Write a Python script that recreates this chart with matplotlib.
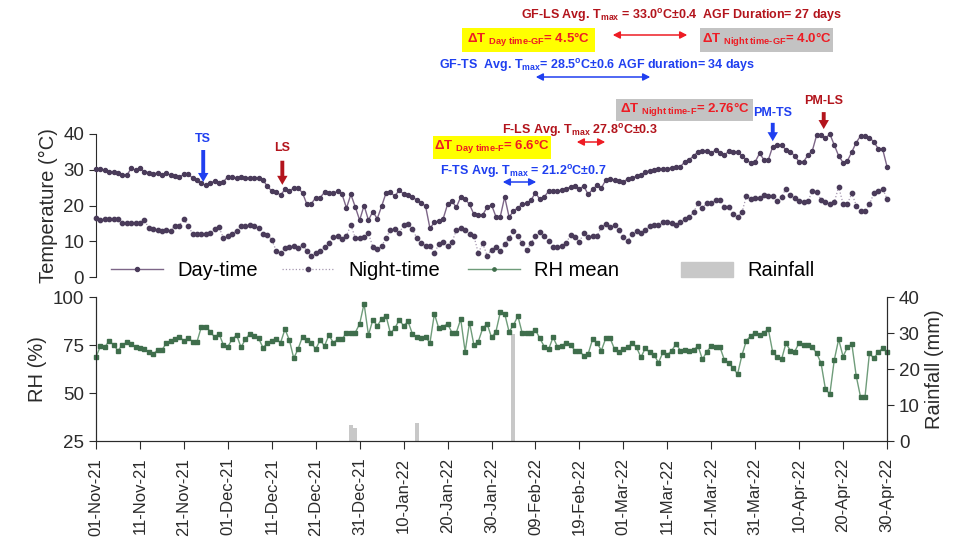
import numpy as np
import pandas as pd
import matplotlib
matplotlib.use('Agg')
import matplotlib.pyplot as plt
from matplotlib.lines import Line2D
from matplotlib.patches import Patch, Rectangle

plt.rcParams['font.family'] = ['Liberation Sans', 'DejaVu Sans']
plt.rcParams['mathtext.fontset'] = 'custom'
plt.rcParams['mathtext.rm'] = 'Liberation Sans:bold'
plt.rcParams['mathtext.it'] = 'Liberation Sans:bold'
plt.rcParams['mathtext.bf'] = 'Liberation Sans:bold'

# daily series, 01-Nov-21 .. 30-Apr-22
dates = pd.date_range('2021-11-01', '2022-04-30', freq='D')

day_temp = [
    30.3, 30.1, 29.8, 29.5, 29.4, 29.0, 28.6, 28.4, 30.4, 29.9,
    30.4, 29.5, 29.2, 28.7, 29.2, 28.5, 29.0, 28.5, 28.3, 28.0,
    28.7, 28.7, 27.7, 27.1, 26.2, 25.6, 26.2, 26.9, 26.4, 26.6,
    28.1, 28.0, 27.6, 27.9, 27.8, 27.8, 27.8, 27.8, 27.1, 25.4,
    24.0, 23.8, 22.9, 24.5, 24.0, 24.9, 24.9, 23.5, 20.3, 20.5,
    22.2, 22.2, 23.7, 23.5, 23.4, 24.0, 23.1, 19.3, 23.1, 19.6,
    15.9, 20.0, 15.9, 18.3, 16.3, 19.8, 23.5, 23.7, 22.6, 24.3,
    23.2, 22.9, 22.3, 21.6, 20.8, 19.8, 13.6, 15.3, 15.6, 16.3,
    20.3, 21.2, 19.5, 22.4, 21.8, 20.3, 17.5, 17.4, 17.4, 19.5,
    20.2, 16.9, 16.9, 22.4, 16.8, 18.4, 19.4, 20.3, 20.6, 21.5,
    23.6, 21.7, 22.4, 24.0, 24.0, 24.0, 24.3, 24.7, 25.2, 25.4,
    24.7, 25.4, 23.1, 24.5, 25.6, 24.9, 27.1, 27.3, 27.1, 26.8,
    26.5, 27.5, 27.7, 28.2, 28.5, 29.4, 29.7, 29.9, 30.3, 30.3,
    30.3, 30.5, 30.7, 30.9, 32.2, 32.8, 33.9, 35.0, 35.2, 35.2,
    34.8, 35.4, 34.8, 34.1, 35.2, 35.0, 35.0, 33.9, 32.8, 31.9,
    32.2, 34.6, 32.8, 32.8, 36.5, 36.9, 36.9, 35.6, 35.0, 33.9,
    32.2, 32.2, 34.1, 35.3, 39.7, 39.7, 38.8, 40.0, 36.9, 33.9,
    32.0, 32.5, 35.0, 37.6, 39.5, 39.5, 39.0, 37.8, 35.9, 35.8,
    30.9,
]

night_temp = [
    16.5, 16.0, 16.1, 16.1, 16.1, 16.3, 15.1, 15.0, 15.0, 15.0,
    15.0, 16.0, 13.7, 13.4, 13.2, 13.0, 13.2, 13.0, 14.4, 14.4,
    16.3, 14.2, 12.1, 12.1, 12.1, 12.1, 12.3, 13.4, 13.9, 10.9,
    11.4, 11.9, 13.0, 14.2, 14.4, 14.6, 14.4, 13.7, 12.1, 11.8,
    10.4, 7.4, 6.7, 8.1, 8.4, 8.6, 8.1, 9.0, 7.2, 6.0,
    6.7, 7.2, 8.4, 9.5, 11.1, 11.5, 10.6, 11.5, 14.6, 10.9,
    10.9, 11.1, 12.2, 8.4, 7.8, 8.6, 10.9, 13.2, 13.4, 12.2,
    14.6, 14.9, 13.4, 10.9, 9.5, 8.8, 8.6, 6.7, 9.1, 9.7,
    8.6, 9.7, 13.1, 13.7, 13.2, 12.1, 11.4, 6.7, 9.4, 6.0,
    7.6, 8.4, 7.2, 9.1, 10.9, 12.8, 11.4, 9.4, 7.5, 9.5,
    11.4, 12.5, 11.5, 10.2, 8.4, 8.4, 8.6, 9.5, 11.8, 11.1,
    9.9, 12.2, 11.1, 11.4, 11.4, 13.9, 14.8, 13.9, 14.6, 13.2,
    11.1, 10.2, 12.0, 12.8, 12.3, 13.2, 14.2, 14.6, 14.6, 15.3,
    15.3, 15.1, 14.6, 15.3, 16.2, 16.8, 18.1, 20.7, 19.3, 20.6,
    20.7, 21.5, 21.5, 19.6, 19.6, 17.7, 16.8, 18.1, 22.6, 21.8,
    22.1, 22.1, 22.8, 22.6, 22.6, 21.2, 22.4, 24.7, 22.8, 22.1,
    21.2, 20.9, 21.2, 24.0, 23.7, 21.6, 20.9, 20.3, 20.9, 25.2,
    20.5, 20.5, 23.4, 20.0, 18.4, 18.4, 20.3, 23.4, 24.0, 24.7,
    21.9,
]

rh_mean = [
    68.6, 74.5, 73.8, 77.3, 75.0, 72.1, 75.0, 76.4, 75.5, 73.8,
    73.3, 72.8, 71.5, 70.1, 72.4, 72.4, 75.9, 77.3, 78.0, 79.0,
    77.3, 78.5, 76.8, 76.8, 84.6, 84.6, 82.0, 79.0, 80.8, 75.0,
    74.2, 78.0, 80.2, 73.8, 78.0, 80.8, 79.7, 78.5, 73.6, 75.9,
    77.3, 78.0, 76.2, 83.2, 77.6, 68.1, 73.0, 79.4, 77.6, 76.2,
    72.8, 77.6, 74.5, 80.2, 76.2, 78.0, 78.0, 81.5, 81.5, 81.5,
    86.0, 96.5, 80.2, 88.1, 85.0, 88.5, 90.2, 81.1, 83.7, 88.1,
    85.0, 87.3, 80.8, 79.0, 78.5, 79.0, 76.2, 91.2, 83.7, 84.6,
    86.0, 81.5, 81.5, 88.5, 71.5, 86.7, 75.0, 76.8, 83.7, 86.0,
    79.0, 81.9, 92.0, 91.3, 81.9, 85.4, 90.1, 81.1, 81.4, 81.4,
    82.8, 78.5, 74.2, 72.8, 79.0, 74.2, 74.5, 76.2, 75.0, 72.1,
    72.1, 69.3, 70.4, 78.0, 76.2, 72.1, 78.5, 78.5, 72.8, 71.5,
    72.8, 73.8, 75.9, 73.8, 68.6, 73.3, 71.1, 69.8, 65.8, 71.1,
    69.8, 72.1, 75.5, 72.1, 72.4, 72.1, 72.4, 74.5, 67.5, 71.5,
    74.5, 73.8, 73.8, 67.2, 65.8, 62.9, 59.9, 69.8, 77.3, 79.7,
    81.5, 80.2, 81.5, 83.2, 71.1, 69.0, 67.5, 75.9, 72.1, 71.5,
    76.2, 75.0, 75.0, 73.8, 70.7, 65.5, 51.9, 49.5, 67.2, 78.0,
    69.0, 73.8, 75.5, 58.8, 47.7, 48.1, 70.7, 68.1, 71.1, 73.3,
    71.5,
]

# rainfall only on a few days (day index from 01-Nov-21)
rain_days = [58, 59, 73, 95]
rain_mm = [4.4, 3.7, 4.9, 29.8]

x = np.arange(len(dates))
tick_pos = x[::10]
tick_labels = [d.strftime('%d-%b-%y') for d in dates[::10]]

W, H = 959.0, 542.0
def fx(px):
    return px / W
def fy(py):
    return 1 - py / H

purple_line = '#7d6688'
purple_dot = '#4a3b5a'
green_line = '#6f9c7a'
green_dot = '#3f6e4c'
rain_col = '#c8c8c8'
dark_red = '#b3141c'
red = '#ee1c24'
blue = '#1f3ff0'
axis_col = '#2b2b2b'

fig = plt.figure(figsize=(9.59, 5.42), dpi=100)
ax_t = fig.add_axes([fx(96), fy(277), fx(887) - fx(96), fy(134) - fy(277)])
ax_b = fig.add_axes([fx(96), fy(441), fx(887) - fx(96), fy(297) - fy(441)])
ax_r = ax_b.twinx()

# temperature panel
ax_t.plot(x, day_temp, '-', color=purple_line, lw=1.0, marker='o', ms=2.9,
          mfc=purple_dot, mec=purple_dot, clip_on=False, zorder=3)
ax_t.plot(x, night_temp, ':', color='#a597b0', lw=0.9, marker='o', ms=3.1,
          mfc=purple_dot, mec=purple_dot, clip_on=False, zorder=3)
ax_t.set_xlim(0, 180)
ax_t.set_ylim(0, 40)
ax_t.set_yticks([0, 10, 20, 30, 40])
ax_t.set_xticks([])
for s in ['top', 'right', 'bottom']:
    ax_t.spines[s].set_visible(False)
ax_t.spines['left'].set_color(axis_col)
ax_t.tick_params(axis='y', direction='out', length=5, labelsize=13.5, colors=axis_col)
ax_t.set_ylabel('Temperature (°C)', fontsize=14.5, color=axis_col, labelpad=4)
ax_t.patch.set_visible(False)

# RH + rainfall panel
ax_r.bar(rain_days, rain_mm, width=0.9, color=rain_col, zorder=1)
ax_r.set_ylim(0, 40)
ax_r.set_yticks([0, 10, 20, 30, 40])
ax_r.set_ylabel('Rainfall (mm)', fontsize=14.5, color=axis_col, labelpad=4)
ax_r.tick_params(axis='y', direction='out', length=5, labelsize=13.5, colors=axis_col)

ax_b.set_zorder(ax_r.get_zorder() + 1)
ax_b.patch.set_visible(False)
ax_b.plot(x, rh_mean, '-', color=green_line, lw=1.0, marker='s', ms=2.4,
          mfc=green_dot, mec=green_dot, clip_on=False)
ax_b.set_xlim(0, 180)
ax_b.set_ylim(25, 100)
ax_b.set_yticks([25, 50, 75, 100])
ax_b.set_xticks(tick_pos)
ax_b.set_xticklabels(tick_labels, rotation=90)
ax_b.tick_params(axis='y', direction='out', length=5, labelsize=13.5, colors=axis_col)
ax_b.tick_params(axis='x', direction='out', length=6, labelsize=12, colors=axis_col, pad=6)
ax_b.set_ylabel('RH (%)', fontsize=14.5, color=axis_col, labelpad=4)
for a in (ax_b, ax_r):
    a.spines['top'].set_visible(False)
    for s in ['left', 'right', 'bottom']:
        a.spines[s].set_color(axis_col)

# legend entries, spread across the row like the original
leg_y = fy(271)
entries = [
    (Line2D([], [], color=purple_line, lw=1.0, marker='o', ms=2.9, mfc=purple_dot, mec=purple_dot), 'Day-time', 111),
    (Line2D([], [], color='#a597b0', ls=':', lw=0.9, marker='o', ms=3.1, mfc=purple_dot, mec=purple_dot), 'Night-time', 282),
    (Line2D([], [], color=green_line, lw=1.0, marker='o', ms=2.4, mfc=green_dot, mec=green_dot), 'RH mean', 468),
    (Patch(color=rain_col), 'Rainfall', 681),
]
for h, lab, px in entries:
    fig.legend([h], [lab], loc='center left', bbox_to_anchor=(fx(px), leg_y),
               frameon=False, fontsize=14.5, handlelength=2.6, handletextpad=0.7,
               borderpad=0, borderaxespad=0)

# stage arrows
def stage(label, d, y_text, y_tail, y_tip, col):
    ax_t.annotate('', xy=(d, y_tip), xytext=(d, y_tail), annotation_clip=False,
                  arrowprops=dict(arrowstyle='simple,head_width=0.75,head_length=0.65,tail_width=0.28',
                                  color=col, lw=0))
    ax_t.text(d, y_text, label, color=col, fontsize=9, fontweight='bold',
              ha='center', va='center', clip_on=False)

stage('TS', 24.4, 38.6, 36.3, 25.8, blue)
stage('LS', 42.4, 36.0, 33.3, 25.0, dark_red)
stage('PM-TS', 154.0, 46.0, 43.9, 37.2, blue)
stage('PM-LS', 165.6, 49.3, 46.9, 40.6, dark_red)

# annotation boxes and labels
def box(x0, y0, x1, y1, col, txt, tcol, size):
    fig.patches.append(Rectangle((fx(x0), fy(y1)), fx(x1) - fx(x0), fy(y0) - fy(y1),
                                 transform=fig.transFigure, facecolor=col, edgecolor='none'))
    fig.text(fx((x0 + x1) / 2), fy((y0 + y1) / 2), txt, color=tcol, fontsize=size,
             fontweight='bold', ha='center', va='center')

def darrow(x0, x1, y, col):
    fig.patches.append(matplotlib.patches.FancyArrowPatch(
        (fx(x0), fy(y)), (fx(x1), fy(y)), transform=fig.transFigure,
        arrowstyle='<|-|>,head_length=0.35,head_width=0.18', mutation_scale=12,
        color=col, lw=1.1))

deg = r'$^{\mathrm{o}}$C'
fig.text(fx(682), fy(16), r'GF-LS Avg. T$_{\mathrm{max}}$ = 33.0' + deg + '±0.4  AGF Duration= 27 days',
         color=dark_red, fontsize=9, fontweight='bold', ha='center', va='center')
box(462, 28, 595, 52, '#ffff00', r'ΔT $_{\mathrm{Day\ time\text{-}GF}}$= 4.5°C', red, 9.5)
box(700, 28, 833, 52, '#c3c3c3', r'ΔT $_{\mathrm{Night\ time\text{-}GF}}$= 4.0°C', red, 9.5)
darrow(610, 690, 35, red)
fig.text(fx(597), fy(66), r'GF-TS  Avg. T$_{\mathrm{max}}$= 28.5' + deg + '±0.6 AGF duration= 34 days',
         color=blue, fontsize=9, fontweight='bold', ha='center', va='center')
darrow(533, 653, 77, blue)

box(616, 99, 753, 121, '#c3c3c3', r'ΔT $_{\mathrm{Night\ time\text{-}F}}$= 2.76°C', red, 9.5)
fig.text(fx(580), fy(131), r'F-LS Avg. T$_{\mathrm{max}}$ 27.8' + deg + '±0.3',
         color=dark_red, fontsize=9, fontweight='bold', ha='center', va='center')
darrow(574, 608, 142, red)
box(433, 136, 551, 159, '#ffff00', r'ΔT $_{\mathrm{Day\ time\text{-}F}}$= 6.6°C', red, 9.5)
fig.text(fx(523), fy(171), r'F-TS Avg. T$_{\mathrm{max}}$ = 21.2' + deg + '±0.7',
         color=blue, fontsize=9, fontweight='bold', ha='center', va='center')
darrow(500, 539, 182, blue)

fig.savefig('out.png', dpi=100)
